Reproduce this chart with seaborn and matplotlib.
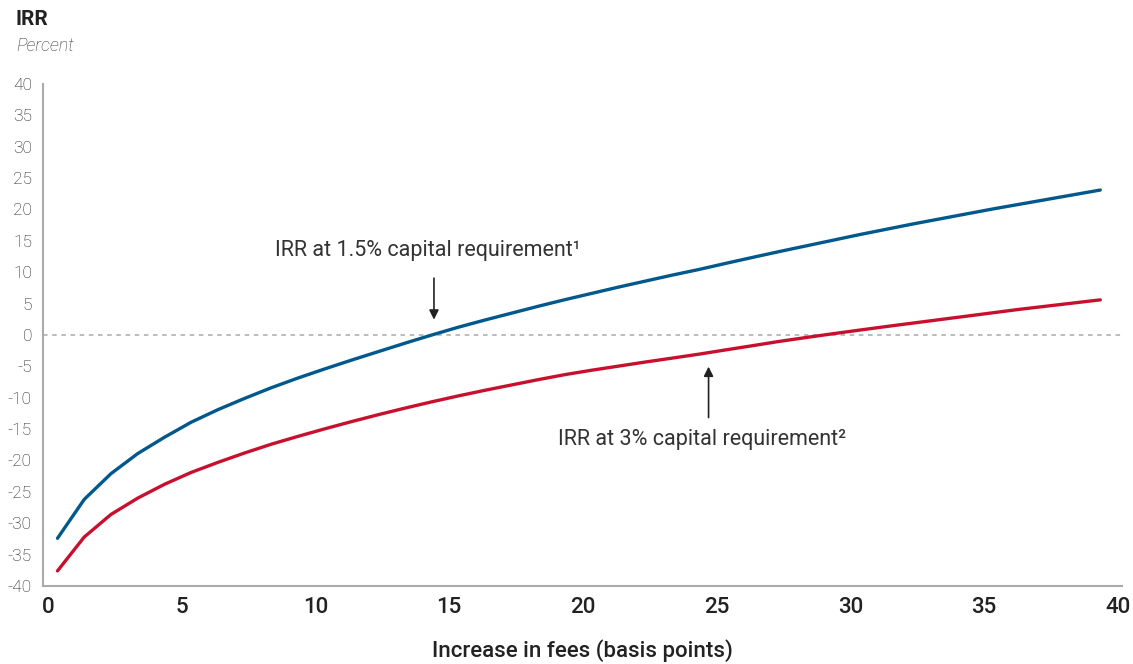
import matplotlib
matplotlib.use("Agg")
import matplotlib.pyplot as plt
import seaborn as sns
import numpy as np
import pandas as pd

# data
fees = np.arange(40) + 0.35  # basis points
irr_15 = [-32.4, -26.2, -22.1, -18.9, -16.3, -13.9, -11.9, -10.1, -8.4, -6.85,
          -5.4, -4.0, -2.65, -1.3, 0.0, 1.25, 2.4, 3.5, 4.6, 5.65,
          6.65, 7.65, 8.6, 9.55, 10.45, 11.42, 12.37, 13.3, 14.2, 15.1,
          16.0, 16.85, 17.7, 18.5, 19.3, 20.1, 20.85, 21.6, 22.35, 23.1]
irr_3 = [-37.6, -32.2, -28.6, -26.0, -23.8, -21.9, -20.3, -18.8, -17.4, -16.15,
         -14.95, -13.8, -12.7, -11.65, -10.65, -9.7, -8.8, -7.95, -7.1, -6.3,
         -5.6, -4.95, -4.3, -3.68, -3.05, -2.37, -1.7, -1.02, -0.4, 0.2,
         0.78, 1.35, 1.9, 2.45, 3.0, 3.55, 4.1, 4.6, 5.1, 5.6]
x_ticks = [0, 5, 10, 15, 20, 25, 30, 35, 40]
y_ticks = list(range(-40, 45, 5))

df = pd.DataFrame({
    "fees": np.concatenate([fees, fees]),
    "irr": irr_15 + irr_3,
    "series": ["1.5%"] * len(irr_15) + ["3%"] * len(irr_3),
})

sns.set_style("white")
plt.rcParams["font.family"] = ["Roboto", "DejaVu Sans"]

fig = plt.figure(figsize=(11.33, 6.64), dpi=100)
ax = fig.add_axes([0.038, 0.1175, 0.952, 0.756])

sns.lineplot(data=df, x="fees", y="irr", hue="series",
             palette={"1.5%": "#00588c", "3%": "#c8102e"},
             linewidth=2.4, legend=False, ax=ax)

ax.axhline(0, color="#aaaaaa", linewidth=1.1, linestyle=(0, (3, 3)), zorder=0)

ax.set_xlim(-0.19, 40.15)
ax.set_ylim(-40, 40)
ax.set_xticks(x_ticks)
ax.set_yticks(y_ticks)
ax.set_xticklabels([str(t) for t in x_ticks], fontsize=16, fontweight="medium", color="#222222")
ax.set_yticklabels([str(t) for t in y_ticks], fontsize=12.5, fontweight="light", color="#1a1a1a")
ax.tick_params(axis="y", direction="in", length=5, width=1, color="#999999", pad=8)
ax.tick_params(axis="x", length=0, pad=8)

for side in ["top", "right"]:
    ax.spines[side].set_visible(False)
for side in ["left", "bottom"]:
    ax.spines[side].set_color("#aaaaaa")
    ax.spines[side].set_linewidth(1.5)

ax.set_xlabel("Increase in fees (basis points)", fontsize=16, fontweight="medium",
              color="#222222", labelpad=15)
ax.set_ylabel("")

# annotations
ax.annotate("", xy=(14.43, 2.0), xytext=(14.43, 9.5),
            arrowprops=dict(arrowstyle="-|>", color="#222222", lw=1.2, mutation_scale=14))
ax.text(14.2, 13.5, "IRR at 1.5% capital requirement¹", fontsize=15.5,
        color="#333333", ha="center", va="center")
ax.annotate("", xy=(24.7, -4.6), xytext=(24.7, -13.6),
            arrowprops=dict(arrowstyle="-|>", color="#222222", lw=1.2, mutation_scale=14))
ax.text(24.45, -16.6, "IRR at 3% capital requirement²", fontsize=15.5,
        color="#333333", ha="center", va="center")

fig.text(0.014, 0.97, "IRR", fontsize=15, fontweight="bold", color="#222222", va="center")
fig.text(0.014, 0.93, "Percent", fontsize=13, fontstyle="italic", fontweight="light",
         color="#333333", va="center")

fig.savefig("out.png", dpi=100)
